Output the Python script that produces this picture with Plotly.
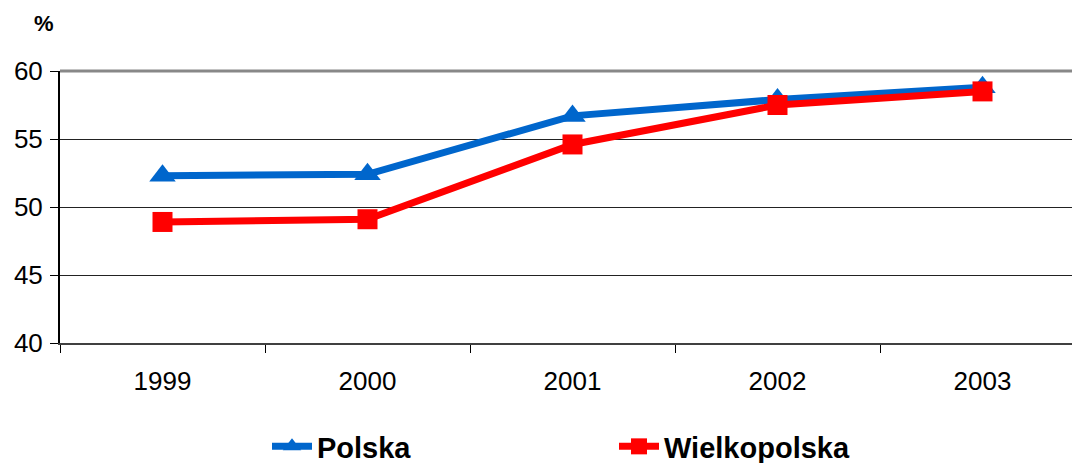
import plotly.graph_objects as go

years = ["1999", "2000", "2001", "2002", "2003"]
polska = [52.3, 52.4, 56.7, 57.9, 58.8]
wielkopolska = [48.9, 49.1, 54.6, 57.5, 58.5]
y_ticks = [40, 45, 50, 55, 60]

FONT = "Arial, Liberation Sans, sans-serif"
xpos = list(range(len(years)))
bounds = [i - 0.5 for i in range(len(years))]

fig = go.Figure()
fig.add_trace(go.Scatter(
    x=xpos, y=polska, name="<b>Polska</b>", mode="lines+markers",
    line=dict(color="#0066CC", width=7),
    marker=dict(symbol="triangle-up", size=23, color="#0066CC"),
))
fig.add_trace(go.Scatter(
    x=xpos, y=wielkopolska, name="<b>Wielkopolska</b>", mode="lines+markers",
    line=dict(color="#FF0000", width=7),
    marker=dict(symbol="square", size=20, color="#FF0000"),
))
# invisible trace on the overlay axis for category boundary ticks
fig.add_trace(go.Scatter(x=[bounds[0]], y=[None], xaxis="x2", showlegend=False, hoverinfo="skip"))

xr = [-0.5, -0.5 + 1012 / 205]
fig.update_layout(
    width=1072, height=463,
    margin=dict(l=60, r=0, t=71, b=120, autoexpand=False),
    paper_bgcolor="white", plot_bgcolor="white",
    font=dict(family=FONT, color="black", size=26),
    showlegend=True,
    legend=dict(
        orientation="h", x=(267 - 60) / 1012, xanchor="left",
        y=(343 - 421) / 272, yanchor="top",
        entrywidth=292, entrywidthmode="pixels",
        font=dict(size=29, family=FONT, color="black"),
        itemwidth=40, bgcolor="rgba(0,0,0,0)",
    ),
    xaxis=dict(
        range=xr, tickvals=xpos, ticktext=years, showgrid=False,
        ticks="", showline=False, zeroline=False, automargin=False,
        ticklabelstandoff=20, tickfont=dict(size=26),
    ),
    xaxis2=dict(
        range=xr, overlaying="x", side="bottom", tickvals=bounds,
        ticks="outside", ticklen=8, tickwidth=1, tickcolor="black",
        showticklabels=False, showgrid=False, zeroline=False, automargin=False,
        showline=True, linecolor="#404040", linewidth=2,
    ),
    yaxis=dict(
        range=[40, 60], tickvals=y_ticks, ticks="outside", ticklen=8,
        tickcolor="black", showgrid=True, gridcolor="#222222", gridwidth=1,
        showline=True, linecolor="black", linewidth=2, zeroline=False,
        tickfont=dict(size=26), ticklabelstandoff=2, automargin=False,
    ),
    shapes=[dict(type="line", xref="paper", yref="paper", x0=0, x1=1, y0=1, y1=1,
                 line=dict(color="#888888", width=3))],
    annotations=[dict(text="<b>%</b>", xref="paper", yref="paper",
                      x=(44 - 60) / 1012, y=(343 - 24) / 272, xanchor="center", yanchor="middle",
                      showarrow=False, font=dict(size=22, family=FONT))],
)

fig.write_html(
    "out.html",
    config={"displayModeBar": False},
    post_script="document.body.style.margin='0';document.body.style.overflow='hidden';",
)
